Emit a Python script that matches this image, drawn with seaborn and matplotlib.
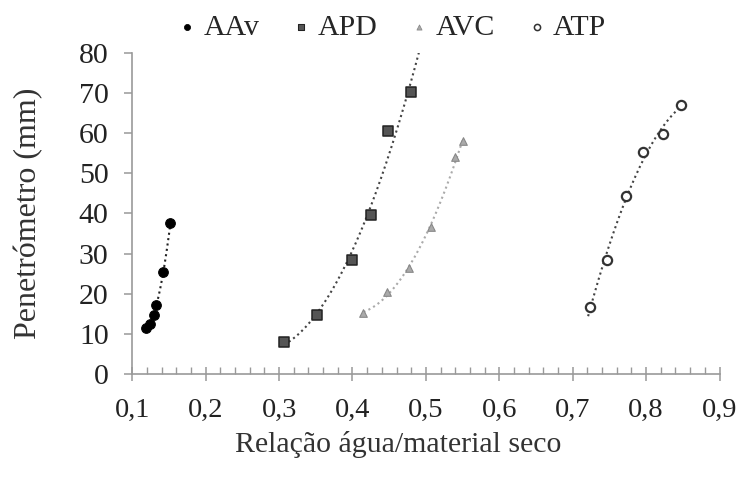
import numpy as np
import pandas as pd
import matplotlib
matplotlib.use("Agg")
import matplotlib.pyplot as plt
from matplotlib.ticker import MultipleLocator, FuncFormatter
import seaborn as sns

# ---- data ----
aav_x = [0.119, 0.124, 0.129, 0.133, 0.142, 0.152]
aav_y = [11.4, 12.4, 14.7, 17.2, 25.3, 37.5]
apd_x = [0.307, 0.351, 0.399, 0.425, 0.448, 0.480]
apd_y = [7.9, 14.7, 28.4, 39.7, 60.4, 70.1]
avc_x = [0.415, 0.447, 0.477, 0.507, 0.540, 0.551]
avc_y = [15.1, 20.5, 26.3, 36.6, 54.1, 58.0]
atp_x = [0.723, 0.747, 0.773, 0.796, 0.823, 0.847]
atp_y = [16.7, 28.3, 44.4, 55.4, 59.7, 67.0]
series_names = ["AAv", "APD", "AVC", "ATP"]
x_ticks = [0.1, 0.2, 0.3, 0.4, 0.5, 0.6, 0.7, 0.8, 0.9]
y_ticks = [0, 10, 20, 30, 40, 50, 60, 70, 80]
x_label = "Relação água/material seco"
y_label = "Penetrómetro (mm)"

sns.set_theme(style="white")
plt.rcParams["font.family"] = ["Liberation Serif", "DejaVu Serif"]

fig = plt.figure(figsize=(7.46, 4.79), dpi=100)
ax = fig.add_axes([0.1773, 0.219, 0.7872, 0.671])

styles = {
    "AAv": dict(marker="o", s=48, color="black", edgecolor="black", linewidth=0.8),
    "APD": dict(marker="s", s=52, color="#555555", edgecolor="#222222", linewidth=1.1),
    "AVC": dict(marker="^", s=30, color="#aaaaaa", edgecolor="#888888", linewidth=0.8),
    "ATP": dict(marker="o", s=44, color="white", edgecolor="#333333", linewidth=1.6),
}
legend_scale = {"AAv": 0.4, "APD": 0.35, "AVC": 0.45, "ATP": 0.45}
line_colors = {"AAv": "#222222", "APD": "#444444", "AVC": "#aaaaaa", "ATP": "#444444"}
ext = {"AAv": (0.0, 0.0), "APD": (0.0, 0.02), "AVC": (0.0, 0.0), "ATP": (0.002, 0.0)}

data = {"AAv": (aav_x, aav_y), "APD": (apd_x, apd_y),
        "AVC": (avc_x, avc_y), "ATP": (atp_x, atp_y)}

handles = []
for name in series_names:
    xs, ys = data[name]
    coef = np.polyfit(xs, ys, 2)
    lo, hi = ext[name]
    fx = np.linspace(min(xs) - lo, max(xs) + hi, 200)
    fy = np.polyval(coef, fx)
    trend = pd.DataFrame({"x": fx, "y": fy})
    sns.lineplot(data=trend, x="x", y="y", ax=ax, color=line_colors[name],
                 linestyle=(0, (1.0, 1.6)), linewidth=1.5, zorder=2)
    df = pd.DataFrame({"x": xs, "y": ys})
    sns.scatterplot(data=df, x="x", y="y", ax=ax, zorder=3, **styles[name])
    st = styles[name]
    h = ax.scatter([], [], marker=st["marker"], s=st["s"] * legend_scale[name], c=st["color"],
                   edgecolors=st["edgecolor"], linewidths=st["linewidth"] * 0.7)
    handles.append(h)

ax.set_xlim(0.1, 0.9)
ax.set_ylim(0, 80)
ax.set_xticks(x_ticks)
ax.set_yticks(y_ticks)
ax.xaxis.set_minor_locator(MultipleLocator(0.02))
ax.xaxis.set_major_formatter(FuncFormatter(lambda v, p: f"{v:.1f}".replace(".", ",")))
ax.set_xlabel(x_label, fontsize=21.5, color="#333333")
ax.set_ylabel(y_label, fontsize=23, color="#333333")
ax.xaxis.set_label_coords(0.453, -0.178)
ax.yaxis.set_label_coords(-0.152, 0.5)

for s in ["top", "right"]:
    ax.spines[s].set_visible(False)
for s in ["left", "bottom"]:
    ax.spines[s].set_color("#999999")
    ax.spines[s].set_linewidth(1.2)

ax.tick_params(axis="x", which="major", direction="inout", length=10, width=1.1,
               color="#999999", labelsize=20.5, labelcolor="#222222", bottom=True, pad=12)
ax.tick_params(axis="x", which="minor", direction="in", length=5, width=1.0,
               color="#999999", bottom=True)
ax.tick_params(axis="y", which="major", direction="out", length=6, width=1.1,
               color="#999999", labelsize=21.5, labelcolor="#222222", left=True, pad=11)

ax.legend(handles, series_names, loc="lower center", bbox_to_anchor=(0.44, 1.0),
          ncol=4, frameon=False, fontsize=21.5, handletextpad=0.15, columnspacing=1.0,
          handlelength=0.8, borderaxespad=0.0, markerscale=1.0)

fig.savefig("out.png", dpi=100)
